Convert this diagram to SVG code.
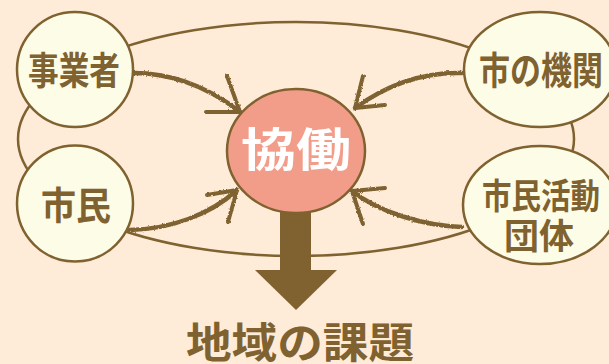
<svg xmlns="http://www.w3.org/2000/svg" width="609" height="364" viewBox="0 0 609 364">
<style>
.bg{fill:#FEECD8}
.ring{fill:none;stroke:#7F6230;stroke-width:2.5}
.node{fill:#FDFCE6;stroke:#7F6230;stroke-width:2.5}
.core{fill:#F29D8A;stroke:#7F6230;stroke-width:2.5}
.lbl{font-family:"Noto Sans CJK JP","Noto Sans CJK SC",sans-serif;font-weight:bold;fill:#7F6230;text-anchor:middle}
.conn{fill:none;stroke:#7F6230;stroke-linecap:round;stroke-linejoin:round}
</style>
<defs>
<filter id="rough" x="-10%" y="-10%" width="120%" height="120%">
<feTurbulence type="fractalNoise" baseFrequency="0.6" numOctaves="2" seed="3" result="n"/>
<feDisplacementMap in="SourceGraphic" in2="n" scale="2.5" xChannelSelector="R" yChannelSelector="G"/>
</filter>
</defs>
<rect class="bg" x="0" y="0" width="609" height="364"/>
<ellipse class="ring" cx="296" cy="139" rx="278" ry="117"/>
<g id="result-arrow">
<rect x="280" y="195" width="31" height="77" fill="#7F6230"/>
<polygon points="255,270 337,270 296,310" fill="#7F6230"/>
</g>
<g id="connectors" filter="url(#rough)">
<path class="conn" stroke-width="4.5" d="M130,73 C165,72 205,84 240,112"/>
<path class="conn" stroke-width="4" d="M227,76 L240,112 M206,112 L240,112"/>
<path class="conn" stroke-width="4.5" d="M462,73 C425,72 388,84 355,108"/>
<path class="conn" stroke-width="4" d="M363,76 L355,108 M385,105 L355,108"/>
<path class="conn" stroke-width="4.5" d="M130,230 C170,229 210,215 237,190"/>
<path class="conn" stroke-width="4" d="M207,195 L237,190 M228,222 L237,190"/>
<path class="conn" stroke-width="4.5" d="M462,227 C425,226 378,212 352,191"/>
<path class="conn" stroke-width="4" d="M385,188 L352,191 M363,224 L352,191"/>
</g>
<g id="node-kyodo">
<ellipse class="core" cx="296" cy="151" rx="69" ry="62"/>
<text x="296" y="166" font-family="'Noto Sans CJK JP',sans-serif" font-weight="bold" font-size="46" fill="#FFFFFF" text-anchor="middle" textLength="110" lengthAdjust="spacingAndGlyphs">協働</text>
</g>
<g id="node-jigyosha">
<ellipse class="node" cx="75" cy="69.5" rx="58" ry="57.5"/>
<text class="lbl" x="74" y="84" font-size="38" textLength="92" lengthAdjust="spacingAndGlyphs">事業者</text>
</g>
<g id="node-shimin">
<ellipse class="node" cx="75" cy="203.5" rx="58" ry="58"/>
<text class="lbl" x="76" y="219" font-size="38" textLength="70" lengthAdjust="spacingAndGlyphs">市民</text>
</g>
<g id="node-shinokikan">
<ellipse class="node" cx="540" cy="69.5" rx="76" ry="57.5"/>
<text class="lbl" x="541" y="84" font-size="38" textLength="124" lengthAdjust="spacingAndGlyphs">市の機関</text>
</g>
<g id="node-shiminkatsudo">
<ellipse class="node" cx="540" cy="205" rx="77" ry="59"/>
<text class="lbl" x="541" y="209" font-size="35" textLength="118" lengthAdjust="spacingAndGlyphs">市民活動</text>
<text class="lbl" x="539" y="249" font-size="35" textLength="70" lengthAdjust="spacingAndGlyphs">団体</text>
</g>
<g id="title">
<text class="lbl" x="300" y="358" font-size="42" textLength="228" lengthAdjust="spacingAndGlyphs">地域の課題</text>
</g>
</svg>
